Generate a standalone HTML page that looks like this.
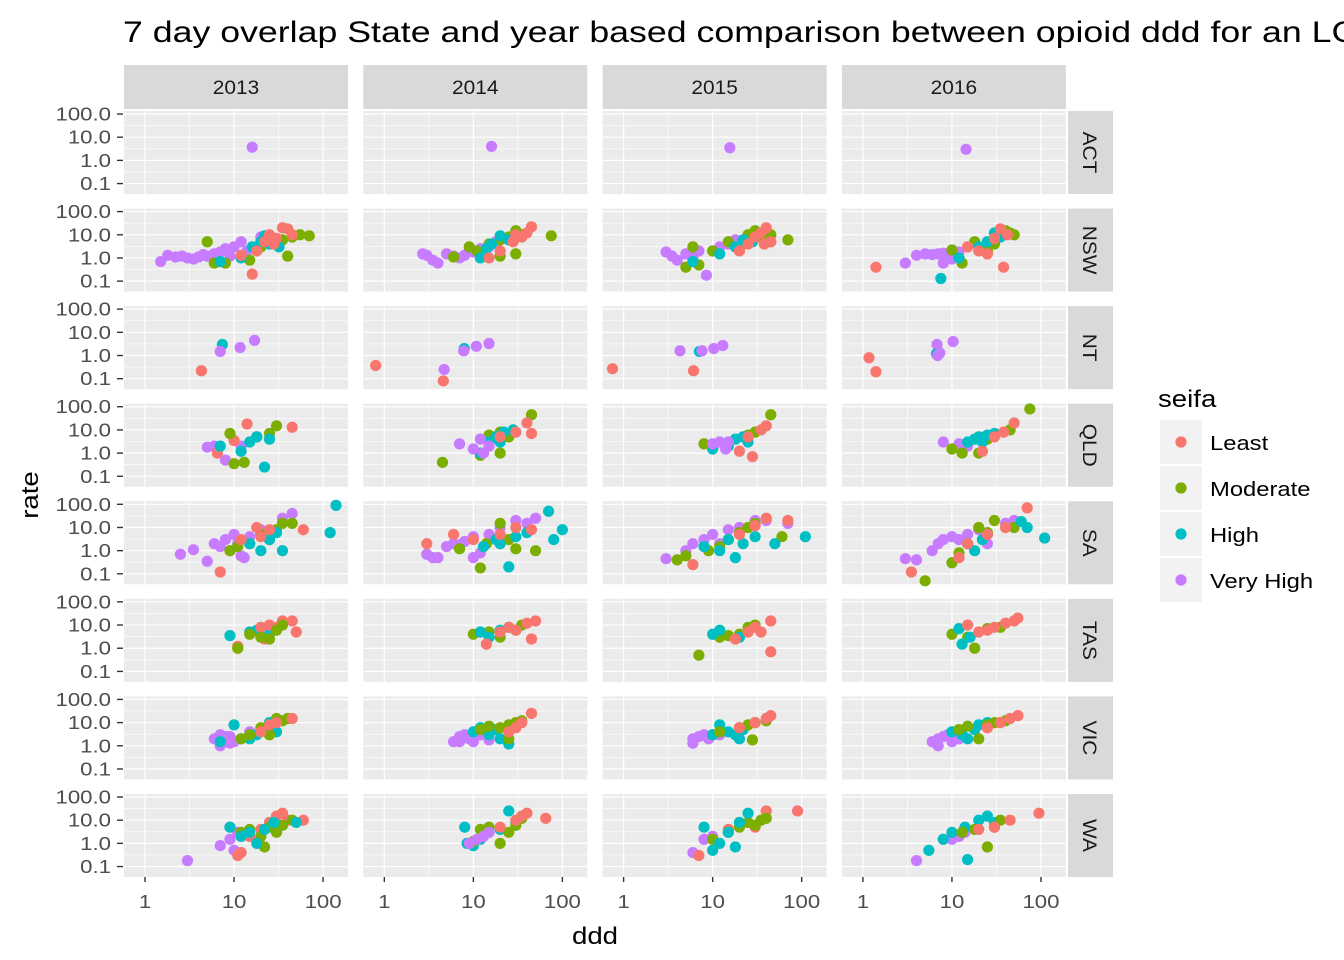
<!DOCTYPE html>
<html><head><meta charset="utf-8"><style>
html,body{margin:0;padding:0;background:#fff;}
svg{display:block;font-family:"Liberation Sans",Arial,sans-serif;}
</style></head><body>
<svg id="chart" width="1344" height="960" viewBox="0 0 1344 960" xmlns="http://www.w3.org/2000/svg">
<text transform="translate(123,42) scale(1.19,1)" font-size="30" fill="#000">7 day overlap State and year based comparison between opioid ddd for an LGA</text>
<text transform="translate(595,944) scale(1.15,1)" font-size="24" text-anchor="middle" fill="#000">ddd</text>
<text transform="translate(38,495) rotate(-90) scale(1.15,1)" font-size="24" text-anchor="middle" fill="#000">rate</text>
<text transform="translate(1158,407) scale(1.15,1)" font-size="24" fill="#000">seifa</text>
</svg>
<script>
const years = ["2013","2014","2015","2016"];
const states = ["ACT","NSW","NT","QLD","SA","TAS","VIC","WA"];
const seifaLevels = ["Least","Moderate","High","Very High"];
const seifaColors = ["#F8766D","#7CAE00","#00BFC4","#C77CFF"];
const yTicks = [0.1,1,10,100];
const yTickLabels = ["0.1","1.0","10.0","100.0"];
const xTicks = [1,10,100];
const xTickLabels = ["1","10","100"];

// [ddd, rate, seifa index] : 0 Least, 1 Moderate, 2 High, 3 Very High
const ACT_2013 = [[16,3.7,3]];
const ACT_2014 = [[16,4,3]];
const ACT_2015 = [[15.6,3.5,3]];
const ACT_2016 = [[14.4,3,3]];
const NSW_2013 = [[1.5,0.7,3],[1.8,1.3,3],[2.2,1.1,3],[2.6,1.2,3],[3,1.0,3],[3.5,0.9,3],[4,1.1,3],[4.5,1.4,3],[5,1.2,3],[6,1.5,3],[7,1.8,3],[8,2.5,3],[9,1.2,3],[10,3,3],[12,5,3],[14,2,3],[20,8,3],
 [5,5,1],[6,0.6,1],[8,0.6,1],[15,0.8,1],[20,3,1],[25,5,1],[30,4,1],[35,6,1],[45,8,1],[40,1.2,1],[70,9,1],[55,10,1],
 [7,0.7,2],[12,1,2],[16,3,2],[20,5,2],[25,4,2],[28,7,2],[32,3,2],[22,9,2],
 [16,0.2,0],[12,1.3,0],[18,2,0],[22,5,0],[25,10,0],[30,7,0],[35,20,0],[40,18,0],[45,10,0],[28,4,0]];
const NSW_2014 = [[2.7,1.5,3],[3,1.3,3],[3.5,0.8,3],[4,0.6,3],[5,1.5,3],[6,1.2,3],[7,1,3],[8,1.3,3],[9,2,3],[10,1.8,3],[12,2.5,3],[15,3,3],[18,5,3],[20,8,3],
 [6,1.1,1],[9,3,1],[11,2,1],[15,4,1],[20,6,1],[25,8,1],[30,15,1],[35,10,1],[75,9,1],[30,1.5,1],[20,1.2,1],
 [12,1,2],[16,4,2],[20,9,2],[25,6,2],[14,2.5,2],
 [15,1,0],[20,2,0],[28,5,0],[35,8,0],[40,12,0],[45,22,0],[30,10,0]];
const NSW_2015 = [[3,1.8,3],[3.5,1.2,3],[4,0.8,3],[5,1.5,3],[6,1,3],[7,2,3],[8.5,0.18,3],[10,2,3],[12,3,3],[15,4,3],[18,6,3],[20,2.5,3],
 [5,0.4,1],[7,0.5,1],[6,3,1],[10,2,1],[15,5,1],[20,3,1],[25,10,1],[30,15,1],[35,8,1],[70,6,1],[45,10,1],
 [6,0.7,2],[12,1.5,2],[18,3,2],[22,6,2],[28,5,2],
 [20,2,0],[25,4,0],[30,8,0],[35,12,0],[40,20,0],[45,5,0],[38,4,0]];
const NSW_2016 = [[3,0.6,3],[4,1.3,3],[5,1.5,3],[6,1.4,3],[7,1.5,3],[8,1.6,3],[9,1,3],[10,0.9,3],[12,1.8,3],[8,0.6,3],
 [10,2.2,1],[13,0.6,1],[18,5,1],[25,2,1],[30,4,1],[40,15,1],[50,10,1],[45,12,1],
 [7.5,0.13,2],[12,1,2],[20,3,2],[25,5,2],[30,12,2],[35,8,2],
 [1.4,0.4,0],[15,3,0],[20,2,0],[25,1.5,0],[30,7,0],[35,18,0],[38,0.4,0],[42,10,0]];
const NT_2013 = [[4.3,0.22,0],[7.4,3,2],[7,1.5,3],[11.7,2.2,3],[17,4.5,3]];
const NT_2014 = [[0.8,0.37,0],[4.6,0.08,0],[4.7,0.25,3],[7.9,2,2],[7.8,1.6,3],[10.8,2.5,3],[15,3.3,3]];
const NT_2015 = [[0.75,0.27,0],[6.1,0.22,0],[4.3,1.6,3],[7.1,1.5,2],[7.6,1.6,3],[10.3,2,3],[13,2.7,3]];
const NT_2016 = [[1.17,0.8,0],[1.4,0.2,0],[6.8,3,3],[6.7,1.2,2],[6.9,1.0,3],[7.3,1.3,3],[10.3,4,3]];
const QLD_2013 = [[5,1.8,3],[8,0.5,3],[6,2,3],[12,2,3],
 [6.5,1,0],[10,3.5,0],[14,18,0],[45,13,0],
 [9,7,1],[10,0.35,1],[13,0.4,1],[18,5,1],[30,15,1],[25,7,1],
 [7,2,2],[12,1.2,2],[15,3,2],[22,0.25,2],[18,5,2],[25,4,2]];
const QLD_2014 = [[4.5,0.4,1],[12,0.8,1],[20,1,1],[15,6,1],[20,8,1],[25,5,1],[45,45,1],
 [12,1,2],[15,3,2],[18,5,2],[22,8,2],[28,10,2],[20,3,2],
 [7,2.5,3],[10,1.5,3],[13,1,3],[15,2,3],[12,4,3],
 [20,5,0],[30,8,0],[40,20,0],[45,7,0]];
const QLD_2015 = [[8,2.5,1],[15,3,1],[25,6,1],[45,45,1],[30,8,1],
 [10,1.5,2],[15,2,2],[18,4,2],[22,5,2],[25,3,2],
 [10,2.5,3],[12,3,3],[14,1.5,3],[15,3,3],
 [20,1.2,0],[28,0.7,0],[35,10,0],[40,15,0],[25,5,0]];
const QLD_2016 = [[8,3,3],[12,2.5,3],[15,2,3],
 [10,1.5,1],[13,1,1],[20,1,1],[25,4,1],[45,10,1],[75,80,1],
 [15,3,2],[18,4,2],[20,5,2],[25,6,2],[30,7,2],[22,3,2],
 [22,1.2,0],[30,5,0],[38,8,0],[50,20,0]];
const SA_2013 = [[2.5,0.7,3],[3.5,1.1,3],[5,0.35,3],[6,2,3],[7,1.5,3],[8,3,3],[10,5,3],[12,0.6,3],[13,0.5,3],[15,4,3],[20,8,3],[35,25,3],[45,40,3],[9,1,3],[11,2,3],
 [9,1,1],[11,1.5,1],[15,2,1],[20,5,1],[25,3,1],[30,8,1],[35,15,1],[45,15,1],
 [15,2,2],[20,1,2],[25,3,2],[35,1,2],[120,6,2],[140,90,2],[30,6,2],
 [7,0.12,0],[12,3,0],[18,10,0],[25,8,0],[60,8,0],[20,4,0]];
const SA_2014 = [[3,0.7,3],[3.5,0.5,3],[4,0.5,3],[5,1.5,3],[6,2,3],[7,1.8,3],[8,2.5,3],[10,4,3],[12,0.8,3],[15,5,3],[20,10,3],[30,20,3],[40,15,3],[50,25,3],[10,0.5,3],
 [7,1.2,1],[12,0.18,1],[14,2,1],[20,15,1],[25,3,1],[30,1.2,1],[50,1,1],
 [13,1.5,2],[18,3,2],[20,2,2],[25,0.2,2],[30,4,2],[70,50,2],[100,8,2],[80,3,2],[40,6,2],
 [3,2,0],[6,5,0],[10,3,0],[20,5,0],[30,10,0],[45,8,0]];
const SA_2015 = [[3,0.45,3],[5,1,3],[6,2,3],[8,3,3],[10,5,3],[12,2,3],[15,8,3],[20,10,3],[30,20,3],[40,20,3],[70,15,3],
 [4,0.4,1],[5,0.6,1],[9,1,1],[12,1.5,1],[15,3,1],[20,6,1],[25,10,1],[30,15,1],[60,4,1],
 [8,1.5,2],[12,1,2],[15,3,2],[18,0.5,2],[22,2,2],[30,4,2],[50,2,2],[110,4,2],
 [6,0.25,0],[20,5,0],[30,12,0],[40,25,0],[70,20,0]];
const SA_2016 = [[3,0.45,3],[4,0.4,3],[6,1,3],[7,2,3],[8,3,3],[10,4,3],[12,3,3],[15,5,3],[20,8,3],[25,2,3],[40,15,3],[50,20,3],
 [5,0.05,1],[10,0.3,1],[12,0.8,1],[15,2,1],[20,10,1],[25,6,1],[30,20,1],[50,10,1],
 [15,2,2],[18,1,2],[22,3,2],[25,5,2],[60,18,2],[70,10,2],[110,3.5,2],
 [3.5,0.12,0],[12,0.5,0],[15,2,0],[25,5,0],[40,10,0],[70,70,0]];
const TAS_2013 = [[9,3.5,2],[15,5,2],[18,6,2],[25,4,2],
 [11,1.2,0],[20,8,0],[25,10,0],[30,8,0],[35,15,0],[45,15,0],[50,5,0],[22,2.5,0],
 [11,1,1],[15,4,1],[25,2.5,1],[30,6,1],[35,10,1],[20,3,1]];
const TAS_2014 = [[10,4,1],[15,5,1],[20,3,1],[25,8,1],[30,6,1],[35,10,1],
 [12,5,2],[15,3,2],[20,6,2],
 [14,1.5,0],[20,5,0],[25,8,0],[30,6,0],[40,12,0],[45,2.5,0],[50,15,0]];
const TAS_2015 = [[7,0.5,1],[12,3,1],[20,4,1],[25,8,1],[30,10,1],[15,3.5,1],
 [10,4,2],[12,6,2],[20,3,2],
 [18,2.5,0],[25,5,0],[30,8,0],[35,5,0],[45,15,0],[45,0.7,0]];
const TAS_2016 = [[10,4,1],[15,3,1],[18,1,1],[25,7,1],[35,8,1],
 [12,7,2],[13,1.5,2],[16,3,2],
 [15,10,0],[20,5,0],[25,6,0],[30,8,0],[40,12,0],[50,15,0],[55,20,0]];
const VIC_2013 = [[6,2,3],[7,1,3],[8,2.5,3],[9,1.3,3],[10,1.5,3],[12,2,3],[15,4,3],[7,3,3],[9,2.5,3],
 [7,1.5,2],[10,8,2],[15,2,2],[20,5,2],[25,10,2],[30,4,2],[18,3,2],
 [12,2,1],[15,3,1],[20,6,1],[30,15,1],[40,15,1],[35,12,1],[25,3,1],
 [20,4,0],[25,8,0],[45,15,0],[30,10,0]];
const VIC_2014 = [[6,1.5,3],[7,2.5,3],[8,3,3],[9,2,3],[10,1.5,3],[12,3,3],[15,1.8,3],[7,1.5,3],
 [10,4,2],[12,6,2],[15,3,2],[20,2,2],[25,1.2,2],[18,5,2],
 [12,5,1],[15,7,1],[20,6,1],[25,8,1],[30,10,1],[35,12,1],[25,2,1],
 [25,4,0],[35,10,0],[45,25,0],[30,6,0]];
const VIC_2015 = [[6,1.3,3],[6,2,3],[7,2.5,3],[8,3,3],[9,2,3],[10,3,3],[12,3,3],
 [10,3,2],[12,8,2],[15,4,2],[18,3,2],[20,2,2],[22,5,2],
 [12,4,1],[20,6,1],[25,8,1],[30,10,1],[28,1.8,1],[40,12,1],
 [20,6,0],[30,10,0],[40,15,0],[45,20,0]];
const VIC_2016 = [[6,1.5,3],[7,2,3],[7,1,3],[8,2.5,3],[9,3,3],[10,1.5,3],[12,2,3],
 [10,4,2],[13,3,2],[18,5,2],[20,8,2],[25,10,2],[15,2,2],
 [12,5,1],[15,7,1],[20,2,1],[25,8,1],[30,10,1],[40,12,1],
 [25,6,0],[35,10,0],[45,15,0],[55,20,0]];
const WA_2013 = [[3,0.18,3],[7,0.8,3],[9,1.5,3],[10,0.5,3],[11,3,3],
 [11,0.3,0],[12,0.4,0],[15,2,0],[20,4,0],[25,8,0],[30,15,0],[35,20,0],[40,10,0],[60,10,0],
 [9,5,1],[12,3,1],[15,4,1],[20,2,1],[22,0.7,1],[25,5,1],[30,3,1],[45,10,1],[35,6,1],
 [9,5,2],[12,2,2],[15,3,2],[18,1,2],[22,4,2],[28,8,2],[50,8,2]];
const WA_2014 = [[8,5,2],[8.5,1,2],[10,0.8,2],[12,1.5,2],[15,3,2],[20,4,2],[25,25,2],[30,8,2],
 [10,1.2,1],[12,4,1],[15,5,1],[20,1,1],[25,3,1],[30,6,1],[35,12,1],
 [9,1,3],[11,1.5,3],[13,2,3],[15,3,3],
 [20,5,0],[30,10,0],[35,15,0],[40,20,0],[65,12,0]];
const WA_2015 = [[6,0.4,3],[10,2,3],[8,1.5,3],
 [7,0.3,0],[15,4,0],[20,8,0],[30,5,0],[40,25,0],[90,25,0],
 [10,1.5,1],[15,3,1],[20,5,1],[25,8,1],[30,6,1],[35,10,1],[40,12,1],
 [8,5,2],[10,0.5,2],[12,1,2],[15,3,2],[20,8,2],[25,20,2],[18,0.7,2]];
const WA_2016 = [[4,0.18,3],[8,1.5,3],[10,1.5,3],[12,2,3],[14,3,3],
 [5.5,0.5,2],[8,1.5,2],[10,3,2],[14,5,2],[15,0.2,2],[20,10,2],[25,15,2],[30,8,2],
 [13,3,1],[18,4,1],[25,0.7,1],[30,5,1],[35,10,1],
 [20,4,0],[30,5,0],[45,10,0],[95,20,0]];
const panelData = {ACT:[ACT_2013,ACT_2014,ACT_2015,ACT_2016],NSW:[NSW_2013,NSW_2014,NSW_2015,NSW_2016],NT:[NT_2013,NT_2014,NT_2015,NT_2016],QLD:[QLD_2013,QLD_2014,QLD_2015,QLD_2016],SA:[SA_2013,SA_2014,SA_2015,SA_2016],TAS:[TAS_2013,TAS_2014,TAS_2015,TAS_2016],VIC:[VIC_2013,VIC_2014,VIC_2015,VIC_2016],WA:[WA_2013,WA_2014,WA_2015,WA_2016]};

const NS="http://www.w3.org/2000/svg";
const svg=document.getElementById('chart');
function mk(tag,attrs,parent){const e=document.createElementNS(NS,tag);for(const k in attrs)e.setAttribute(k,attrs[k]);(parent||svg).appendChild(e);return e;}
const colX0=124, colPitch=239.3, panelW=224;
const rowY0=111, rowPitch=97.57, panelH=83;
const xLogMin=-0.236, xLogMax=2.28;
const yLogMin=-1.45, yLogMax=2.13;
function xScale(col,v){return colX0+col*colPitch+(Math.log10(v)-xLogMin)/(xLogMax-xLogMin)*panelW;}
function yScale(row,v){const top=rowY0+row*rowPitch;return top+panelH-(Math.log10(v)-yLogMin)/(yLogMax-yLogMin)*panelH;}

years.forEach((yr,c)=>{
  const g=mk('g',{});
  
  
  mk('rect',{x:colX0+c*colPitch,y:65,width:panelW,height:44,fill:'#D9D9D9'},g);
  const t=mk('text',{transform:`translate(${colX0+c*colPitch+panelW/2},94) scale(1.1,1)`,'font-size':19,'text-anchor':'middle',fill:'#1A1A1A'},g);
  t.textContent=yr;
});
states.forEach((st,r)=>{
  const top=rowY0+r*rowPitch;
  const g=mk('g',{});
  
  
  mk('rect',{x:1068,y:top,width:45,height:panelH,fill:'#D9D9D9'},g);
  const t=mk('text',{transform:`translate(1083,${top+panelH/2}) rotate(90) scale(1.1,1)`,'font-size':19,'text-anchor':'middle',fill:'#1A1A1A'},g);
  t.textContent=st;
  const ax=mk('g',{});
  
  
  yTicks.forEach((v,i)=>{
    const y=yScale(r,v);
    mk('line',{x1:117,x2:123,y1:y,y2:y,stroke:'#333','stroke-width':1.4},ax);
    const lt=mk('text',{transform:`translate(111,${y+6.5}) scale(1.2,1)`,'font-size':18.5,'text-anchor':'end',fill:'#4D4D4D'},ax);
    lt.textContent=yTickLabels[i];
  });
  years.forEach((yr,c)=>{
    const left=colX0+c*colPitch;
    const pg=mk('g',{});
    
    
    mk('rect',{x:left,y:top,width:panelW,height:panelH,fill:'#EBEBEB'},pg);
    for(let i=0;i<yTicks.length-1;i++){const y=yScale(r,Math.sqrt(yTicks[i]*yTicks[i+1]));mk('line',{x1:left,x2:left+panelW,y1:y,y2:y,stroke:'#fff','stroke-width':0.6},pg);}
    for(let i=0;i<xTicks.length-1;i++){const x=xScale(c,Math.sqrt(xTicks[i]*xTicks[i+1]));mk('line',{x1:x,x2:x,y1:top,y2:top+panelH,stroke:'#fff','stroke-width':0.6},pg);}
    yTicks.forEach(v=>{const y=yScale(r,v);mk('line',{x1:left,x2:left+panelW,y1:y,y2:y,stroke:'#fff','stroke-width':1.2},pg);});
    xTicks.forEach(v=>{const x=xScale(c,v);mk('line',{x1:x,x2:x,y1:top,y2:top+panelH,stroke:'#fff','stroke-width':1.2},pg);});
    panelData[st][c].forEach(d=>{
      const p=mk('circle',{cx:xScale(c,d[0]),cy:yScale(r,d[1]),r:5.6,fill:seifaColors[d[2]]},pg);
      
      
    });
  });
});
years.forEach((yr,c)=>{
  const ax=mk('g',{});
  
  
  const bottom=rowY0+7*rowPitch+panelH;
  xTicks.forEach((v,i)=>{
    const x=xScale(c,v);
    mk('line',{x1:x,x2:x,y1:bottom,y2:bottom+5,stroke:'#333','stroke-width':1.4},ax);
    const t=mk('text',{transform:`translate(${x},${bottom+31}) scale(1.2,1)`,'font-size':18.5,'text-anchor':'middle',fill:'#4D4D4D'},ax);
    t.textContent=xTickLabels[i];
  });
});
seifaLevels.forEach((lv,i)=>{
  const y=420+i*46;
  const g=mk('g',{});
  
  
  mk('rect',{x:1160,y:y,width:42,height:44,fill:'#F2F2F2'},g);
  mk('circle',{cx:1181,cy:y+22,r:5.6,fill:seifaColors[i]},g);
  const t=mk('text',{transform:`translate(1210,${y+30}) scale(1.19,1)`,'font-size':20,fill:'#000'},g);
  t.textContent=lv;
});
</script>
</body></html>
